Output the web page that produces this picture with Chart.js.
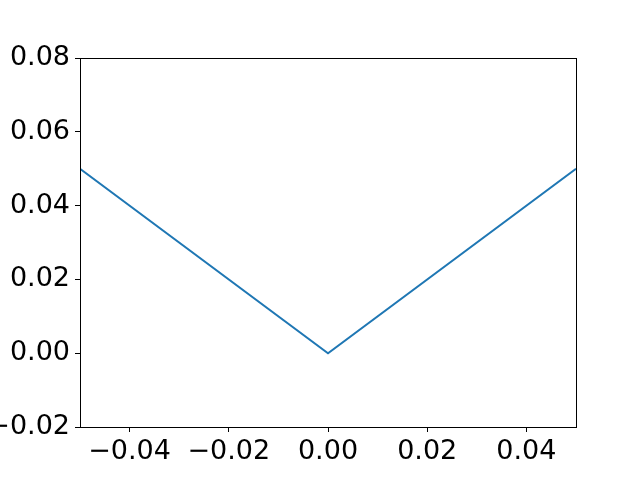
<!DOCTYPE html>
<html><head><meta charset="utf-8">
<script src="https://cdn.jsdelivr.net/npm/chart.js"></script>
<style>html,body{margin:0;padding:0;background:#fff}#wrap{width:640px;height:480px}</style>
</head><body><div id="wrap"><canvas id="c" width="640" height="480"></canvas></div>
<script>
const xValues = [-0.05, 0.0, 0.05];
const yValues = [0.05, 0.0, 0.05];
const xTicks = [-0.04, -0.02, 0.0, 0.02, 0.04];
const yTicks = [-0.02, 0.0, 0.02, 0.04, 0.06, 0.08];

const fmt = v => v.toFixed(2).replace('-', '\u2212');
const font = {family: 'DejaVu Sans', size: 27};

const frame = {
  id: 'frame',
  afterDraw(chart) {
    const a = chart.chartArea, ctx = chart.ctx;
    ctx.save();
    ctx.strokeStyle = '#000'; ctx.lineWidth = 1;
    ctx.strokeRect(Math.round(a.left) + 0.5, Math.round(a.top) + 0.5, Math.round(a.right - a.left), Math.round(a.bottom - a.top));
    ctx.restore();
  }
};

new Chart(document.getElementById('c'), {
  type: 'scatter',
  data: {
    datasets: [{
      data: xValues.map((x, i) => ({x, y: yValues[i]})),
      showLine: true, borderColor: '#1f77b4', borderWidth: 2,
      pointRadius: 0, fill: false, tension: 0
    }]
  },
  options: {
    responsive: false, animation: false,
    layout: {padding: {top: 58, right: 64, left: 0, bottom: 0}},
    plugins: {legend: {display: false}, tooltip: {enabled: false}},
    scales: {
      x: {
        type: 'linear', min: -0.05, max: 0.05,
        afterBuildTicks: s => { s.ticks = xTicks.map(v => ({value: v})); },
        afterFit: s => { s.height = 53; },
        grid: {display: true, drawOnChartArea: false, tickLength: 5, color: '#000'},
        border: {display: true, color: '#000'},
        ticks: {color: '#000', font, padding: 4, maxRotation: 0, autoSkip: false, callback: v => fmt(v)}
      },
      y: {
        type: 'linear', min: -0.02, max: 0.08,
        afterBuildTicks: s => { s.ticks = yTicks.map(v => ({value: v})); },
        afterFit: s => { s.width = 80; },
        grid: {display: true, drawOnChartArea: false, tickLength: 5, color: '#000'},
        border: {display: true, color: '#000'},
        ticks: {color: '#000', font, padding: 5, autoSkip: false, callback: v => fmt(v)}
      }
    }
  },
  plugins: [frame]
});
</script></body></html>
